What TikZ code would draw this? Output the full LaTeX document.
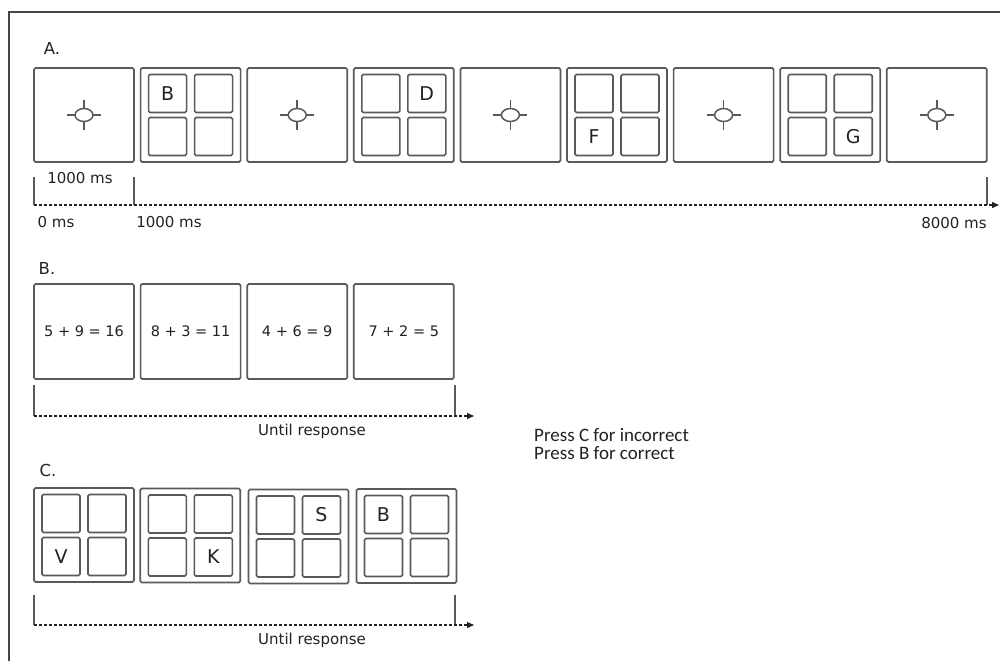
\documentclass[tikz,border=0pt]{standalone}
\usepackage{fontspec}
\setmainfont{DejaVu Sans}
\newfontfamily\calfont{Carlito}
\usetikzlibrary{arrows.meta}
\definecolor{boxgray}{HTML}{5A5A5A}
\definecolor{txt}{HTML}{222222}
\definecolor{framegray}{HTML}{454545}
\tikzset{
  panel/.style={draw=boxgray, line width=1.7pt, rounded corners=1.5pt, minimum width=100pt, minimum height=94pt, inner sep=0pt},
  cell/.style={draw=boxgray, line width=1.6pt, rounded corners=1.5pt, minimum size=38pt, inner sep=0pt, font=\fontsize{19}{21}\selectfont, text=txt},
  lbl/.style={font=\fontsize{15}{17}\selectfont, text=txt, inner sep=0pt},
  seclbl/.style={font=\fontsize{16.5}{18}\selectfont, text=txt, inner sep=0pt},
  eqlbl/.style={font=\fontsize{14.5}{17}\selectfont, text=txt, inner sep=0pt},
  tickline/.style={draw=boxgray, line width=1.3pt},
  timeline/.style={draw=txt, line width=1.3pt, dash pattern=on 3pt off 2pt, -{Triangle[length=7pt,width=6pt]}},
  fixline/.style={draw=boxgray, line width=1.5pt},
  fixcross/.pic={
    \draw[fixline] (0,0) ellipse [x radius=9, y radius=6.5];
    \draw[fixline] (-17,0)--(-9,0) (9,0)--(17,0) (0,-15)--(0,-6.5) (0,6.5)--(0,15);
  }
}
\newcommand\gridpanel[7]{%
  \node[panel] (#1) at (#2,#3) {};
  \node[cell] (#1-tl) at ([shift={(-23,-21.5)}]#1.center) {#4};
  \node[cell] (#1-tr) at ([shift={(23,-21.5)}]#1.center) {#5};
  \node[cell] (#1-bl) at ([shift={(-23,21.5)}]#1.center) {#6};
  \node[cell] (#1-br) at ([shift={(23,21.5)}]#1.center) {#7};
}
\newcommand\fixpanel[3]{%
  \node[panel] (#1) at (#2,#3) {};
  \pic at (#1.center) {fixcross};
}
\begin{document}
\begin{tikzpicture}[x=1pt, y=-1pt]
\useasboundingbox[fill=white] (0,0) rectangle (1000,661);
% frame
\coordinate (fbl) at (9,661);
\coordinate (ftl) at (9,12);
\coordinate (ftr) at (1000,12);
\draw[draw=framegray, line width=2pt] (fbl) -- (ftl) -- (ftr);

% ---------- A ----------
\node[seclbl] (la) at (52,48) {A.};
\fixpanel{a1}{84}{115}
\gridpanel{a2}{190.6}{115}{B}{}{}{}
\fixpanel{a3}{297.2}{115}
\gridpanel{a4}{403.8}{115}{}{D}{}{}
\fixpanel{a5}{510.4}{115}
\gridpanel{a6}{617}{115}{}{}{F}{}
\fixpanel{a7}{723.6}{115}
\gridpanel{a8}{830.2}{115}{}{}{}{G}
\fixpanel{a9}{936.8}{115}

\coordinate (ta0t) at (34,177);  \coordinate (ta0) at (34,205);
\coordinate (ta1t) at (134,177); \coordinate (ta1) at (134,205);
\coordinate (ta8t) at (987,177); \coordinate (ta8) at (987,205);
\coordinate (taend) at (999,205);
\draw[tickline] (ta0t) -- (ta0);
\draw[tickline] (ta1t) -- (ta1);
\draw[tickline] (ta8t) -- (ta8);
\draw[timeline] (ta0) -- (taend);
\node[lbl] (t1000a) at (80,178) {1000 ms};
\node[lbl] (t0) at (56,222) {0 ms};
\node[lbl] (t1000b) at (169,222) {1000 ms};
\node[lbl] (t8000) at (954,223) {8000 ms};

% ---------- B ----------
\node[seclbl] (lb) at (47,268) {B.};
\node[panel, minimum height=95pt] (b1) at (84,331.5) {};
\node[panel, minimum height=95pt] (b2) at (190.6,331.5) {};
\node[panel, minimum height=95pt] (b3) at (297.2,331.5) {};
\node[panel, minimum height=95pt] (b4) at (403.8,331.5) {};
\node[eqlbl] at (b1.center) {5 + 9 = 16};
\node[eqlbl] at (b2.center) {8 + 3 = 11};
\node[eqlbl] at (b3.center) {4 + 6 = 9};
\node[eqlbl] at (b4.center) {7 + 2 = 5};

\coordinate (tb0t) at (34,385);  \coordinate (tb0) at (34,416);
\coordinate (tb1t) at (455,385); \coordinate (tb1) at (455,416);
\coordinate (tbend) at (474,416);
\draw[tickline] (tb0t) -- (tb0);
\draw[tickline] (tb1t) -- (tb1);
\draw[timeline] (tb0) -- (tbend);
\node[lbl] (ub) at (312,431) {Until response};

\node[font=\calfont\fontsize{19}{18}\selectfont, text=txt, align=left, anchor=west, inner sep=0pt] (press) at (534,444) {Press C for incorrect\\Press B for correct};

% ---------- C ----------
\node[seclbl] (lc) at (48,470) {C.};
\gridpanel{c1}{84}{535}{}{}{V}{}
\gridpanel{c2}{190.3}{535.5}{}{}{}{K}
\gridpanel{c3}{298.5}{536.5}{}{S}{}{}
\gridpanel{c4}{406.5}{536}{B}{}{}{}

\coordinate (tc0t) at (34,595);  \coordinate (tc0) at (34,625);
\coordinate (tc1t) at (455,595); \coordinate (tc1) at (455,625);
\coordinate (tcend) at (474,625);
\draw[tickline] (tc0t) -- (tc0);
\draw[tickline] (tc1t) -- (tc1);
\draw[timeline] (tc0) -- (tcend);
\node[lbl] (uc) at (312,640) {Until response};
\end{tikzpicture}
\end{document}
